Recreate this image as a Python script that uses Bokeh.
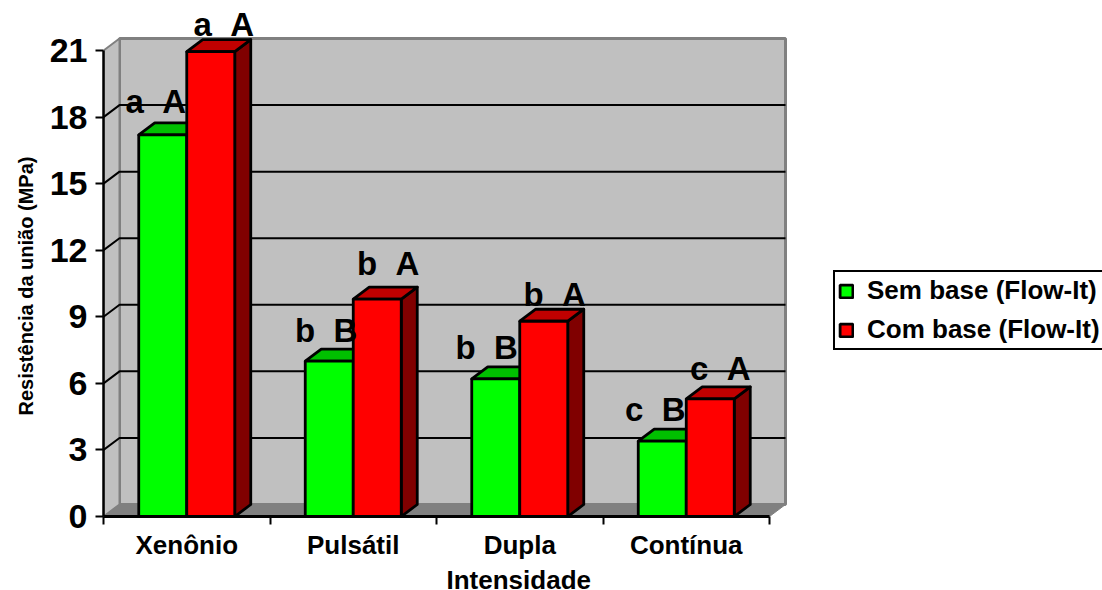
from bokeh.plotting import figure
from bokeh.models import (ColumnDataSource, FixedTicker, Range1d, Legend, LegendItem, Title)
from bokeh.embed import file_html
from bokeh.resources import INLINE
from bokeh.core.properties import value

categories = ["Xenônio", "Pulsátil", "Dupla", "Contínua"]
sem_base = [17.2, 7.0, 6.2, 3.4]
com_base = [20.95, 9.8, 8.8, 5.3]
sem_labels = ["a\u00a0\u00a0A", "b\u00a0\u00a0B", "b\u00a0\u00a0B", "c\u00a0\u00a0B"]
com_labels = ["a\u00a0\u00a0A", "b\u00a0\u00a0A", "b\u00a0\u00a0A", "c\u00a0\u00a0A"]
y_ticks = [0, 3, 6, 9, 12, 15, 18, 21]
series_names = ["Sem base (Flow-It)", "Com base (Flow-It)"]
x_title = "Intensidade"
y_title = "Resistência da união (MPa)"

# pixel layout of the plot
W, H = 1102, 590
LEFT, RIGHT, TOP, BOTTOM = 103, 787, 4, 516
PX_X, PX_Y = 166.5, 22.19
DX, DY = 16 / PX_X, 12 / PX_Y
BAR_W = 48 / PX_X
XMAX = (RIGHT - LEFT) / PX_X
YMAX = (BOTTOM - TOP) / PX_Y
FONT = "Liberation Sans"

# label nudges in screen pixels
sem_off_x = [-7, -3, -9, -7]
sem_off_y = [-33, -31, -31, -32]
com_off_x = [13, 11, 11, 10]
com_off_y = [-27, -36, -27, -30]

p = figure(width=W, height=H, output_backend="svg", toolbar_location=None,
           frame_width=RIGHT - LEFT, frame_height=BOTTOM - TOP,
           x_range=Range1d(0, XMAX), y_range=Range1d(0, YMAX),
           min_border_left=LEFT, min_border_right=0,
           min_border_top=TOP, min_border_bottom=H - BOTTOM,
           outline_line_color=None, background_fill_color="white",
           border_fill_color=None)
p.xgrid.visible = False
p.ygrid.visible = False

wall_top = 21 + DY
wall_right = 4 + DX
GRAY = "#808080"
# back wall, side wall, floor
p.patch([DX, wall_right, wall_right, DX], [DY, DY, wall_top, wall_top],
        fill_color="#C0C0C0", line_color=GRAY, line_width=3)
p.patch([0, DX, DX, 0], [0, DY, wall_top, 21],
        fill_color="#C0C0C0", line_color=GRAY, line_width=2)
p.patch([0, DX, wall_right, 4], [0, DY, DY, 0],
        fill_color=GRAY, line_color=GRAY, line_width=1)

# grid lines, bent along the side wall
gx = [[0, DX, wall_right] for v in y_ticks[1:-1]]
gy = [[v, v + DY, v + DY] for v in y_ticks[1:-1]]
p.multi_line(gx, gy, line_color="black", line_width=2)

LW = 2.8
GAP = (1 - 2 * BAR_W) / 2
handles = []
series = [(sem_base, GAP, "#00FF00", "#00C000", "#008000"),
          (com_base, GAP + BAR_W, "#FF0000", "#C00000", "#800000")]
for i in range(len(categories)):
    for k, (vals, shift, front, top, side) in enumerate(series):
        x0 = i + shift
        x1 = x0 + BAR_W
        v = vals[i]
        p.patch([x1, x1 + DX, x1 + DX, x1], [0, DY, v + DY, v],
                fill_color=side, line_color="black", line_width=LW, line_join="round")
        p.patch([x0, x1, x1 + DX, x0 + DX], [v, v, v + DY, v + DY],
                fill_color=top, line_color="black", line_width=LW, line_join="round")
        r = p.quad(left=[x0], right=[x1], bottom=[0], top=[v],
                   fill_color=front, line_color="black", line_width=LW)
        if i == 0:
            handles.append(r)

# significance letters
for vals, shift, labels, ox, oy in [(sem_base, GAP, sem_labels, sem_off_x, sem_off_y),
                                    (com_base, GAP + BAR_W, com_labels, com_off_x, com_off_y)]:
    src = ColumnDataSource(dict(x=[i + shift + BAR_W / 2 for i in range(4)], y=vals,
                                t=labels, ox=ox, oy=oy))
    p.text(x="x", y="y", text="t", x_offset="ox", y_offset="oy", source=src,
           text_font=value(FONT), text_font_style="bold", text_font_size="33px",
           text_align="center", text_baseline="alphabetic", text_color="black")

# axes
xa = p.xaxis[0]
xa.bounds = (0, 4)
xa.ticker = FixedTicker(ticks=[i + 0.5 for i in range(4)], minor_ticks=[0, 1, 2, 3, 4])
xa.major_label_overrides = {i + 0.5: c for i, c in enumerate(categories)}
xa.major_tick_line_color = None
xa.minor_tick_line_color = "black"
xa.minor_tick_line_width = 2
xa.minor_tick_out = 8
xa.minor_tick_in = 0
xa.axis_line_color = "black"
xa.axis_line_width = 3
xa.major_label_text_font = FONT
xa.major_label_text_font_style = "bold"
xa.major_label_text_font_size = "26px"
xa.major_label_text_color = "black"
xa.major_label_standoff = 5

ya = p.yaxis[0]
ya.bounds = (0, 21)
ya.ticker = FixedTicker(ticks=y_ticks)
ya.major_tick_line_color = "black"
ya.major_tick_line_width = 2
ya.major_tick_out = 8
ya.major_tick_in = 0
ya.minor_tick_line_color = None
ya.axis_line_color = "black"
ya.axis_line_width = 2.5
ya.major_label_text_font = FONT
ya.major_label_text_font_style = "bold"
ya.major_label_text_font_size = "34px"
ya.major_label_text_color = "black"
ya.major_label_standoff = 8

# axis titles sit off the frame centre in the reference, so they are side titles with an offset
p.add_layout(Title(text=x_title, text_font=FONT, text_font_style="bold", text_font_size="26px",
                   text_color="black", align="left", offset=343, standoff=0), "below")
p.add_layout(Title(text=y_title, text_font=FONT, text_font_style="bold", text_font_size="20px",
                   text_color="black", align="left", offset=101, standoff=20), "left")

legend = Legend(items=[LegendItem(label=n, renderers=[r]) for n, r in zip(series_names, handles)],
                location=(46, 166), orientation="vertical",
                glyph_width=16, glyph_height=16, label_height=28, label_standoff=13,
                spacing=8, padding=3, margin=0,
                label_text_font=FONT, label_text_font_style="bold",
                label_text_font_size="26px", label_text_color="black",
                border_line_color="black", border_line_alpha=1, border_line_width=2.5,
                background_fill_color="white", background_fill_alpha=1)
p.add_layout(legend, "right")

open("out.html", "w").write(file_html(p, INLINE))
